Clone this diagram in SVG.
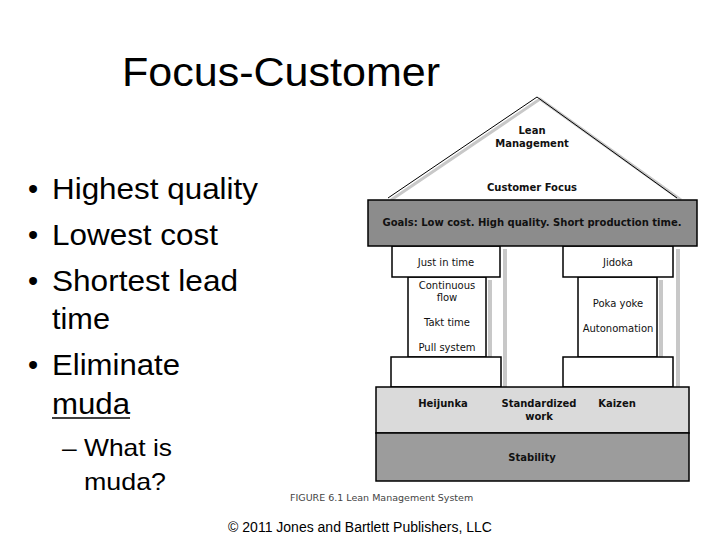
<svg xmlns="http://www.w3.org/2000/svg" width="720" height="540" viewBox="0 0 720 540">
<style>
.t{font-family:"Liberation Sans",Arial,sans-serif;fill:#000}
.d{font-family:"DejaVu Sans","Liberation Sans",sans-serif;font-size:10px;fill:#111;text-anchor:middle}
.b{font-weight:bold}
.box{fill:#fff;stroke:#000;stroke-width:1.5}
.sh{fill:#c8c8c8}
</style>
<rect width="720" height="540" fill="#fff"/>
<g id="text">
<text class="t" x="122" y="86" font-size="40" textLength="318" lengthAdjust="spacingAndGlyphs">Focus-Customer</text>
<text class="t" x="28" y="199" font-size="29">•</text><text class="t" x="52" y="199" font-size="29" textLength="206" lengthAdjust="spacingAndGlyphs">Highest quality</text>
<text class="t" x="28" y="245" font-size="29">•</text><text class="t" x="52" y="245" font-size="29" textLength="166" lengthAdjust="spacingAndGlyphs">Lowest cost</text>
<text class="t" x="28" y="291" font-size="29">•</text><text class="t" x="52" y="291" font-size="29" textLength="186" lengthAdjust="spacingAndGlyphs">Shortest lead</text>
<text class="t" x="52" y="329" font-size="29" textLength="58" lengthAdjust="spacingAndGlyphs">time</text>
<text class="t" x="28" y="375" font-size="29">•</text><text class="t" x="52" y="375" font-size="29" textLength="128" lengthAdjust="spacingAndGlyphs">Eliminate</text>
<text class="t" x="52" y="414" font-size="29" textLength="78" lengthAdjust="spacingAndGlyphs">muda</text>
<line x1="52" y1="418" x2="130" y2="418" stroke="#000" stroke-width="1.5"/>
<text class="t" x="62" y="456" font-size="24" textLength="110" lengthAdjust="spacingAndGlyphs">– What is</text>
<text class="t" x="84" y="490" font-size="24" textLength="82" lengthAdjust="spacingAndGlyphs">muda?</text>
<text class="t" x="360" y="532" font-size="14" text-anchor="middle">© 2011 Jones and Bartlett Publishers, LLC</text>
<text x="290" y="501" font-family="DejaVu Sans,sans-serif" font-size="9.5" fill="#444">FIGURE 6.1  Lean Management System</text>
</g>
<g id="roof">
<polyline points="391,200 540,99 681,200" fill="none" stroke="#c8c8c8" stroke-width="3"/>
<polyline points="388,198 537,97 677,198" fill="none" stroke="#000" stroke-width="1"/>
<text class="d b" x="532" y="134">Lean</text>
<text class="d b" x="532" y="147">Management</text>
<text class="d b" x="532" y="191">Customer Focus</text>
</g>
<g id="pillars">
<rect x="503" y="249" width="4" height="140" class="sh"/>
<rect x="676" y="249" width="4" height="140" class="sh"/>
<rect x="488" y="280" width="4" height="80" class="sh"/>
<rect x="659" y="280" width="4" height="80" class="sh"/>
<rect x="408" y="277" width="78" height="80" class="box"/>
<rect x="578" y="277" width="79" height="80" class="box"/>
<rect x="392" y="246" width="108" height="31" class="box"/>
<rect x="563" y="246" width="110" height="31" class="box"/>
<rect x="391" y="357" width="110" height="30" class="box"/>
<rect x="563" y="357" width="110" height="30" class="box"/>
<text class="d" x="446" y="266">Just in time</text>
<text class="d" x="618" y="266">Jidoka</text>
<text class="d" x="447" y="289">Continuous</text>
<text class="d" x="447" y="301">flow</text>
<text class="d" x="447" y="326">Takt time</text>
<text class="d" x="447" y="351">Pull system</text>
<text class="d" x="618" y="307">Poka yoke</text>
<text class="d" x="618" y="332">Autonomation</text>
</g>
<g id="goals">
<rect x="368" y="200" width="329" height="46" fill="#8c8c8c" stroke="#000" stroke-width="1.5"/>
<text class="d b" x="532" y="226">Goals: Low cost. High quality. Short production time.</text>
</g>
<g id="base">
<rect x="376" y="387" width="313" height="46" fill="#dadada" stroke="#000" stroke-width="1.5"/>
<text class="d b" x="443" y="407">Heijunka</text>
<text class="d b" x="539" y="407">Standardized</text>
<text class="d b" x="539" y="420">work</text>
<text class="d b" x="617" y="407">Kaizen</text>
</g>
<g id="stability">
<rect x="376" y="433" width="313" height="48" fill="#9c9c9c" stroke="#000" stroke-width="1.5"/>
<text class="d b" x="532" y="461">Stability</text>
</g>
<g id="connectors"/>
</svg>
